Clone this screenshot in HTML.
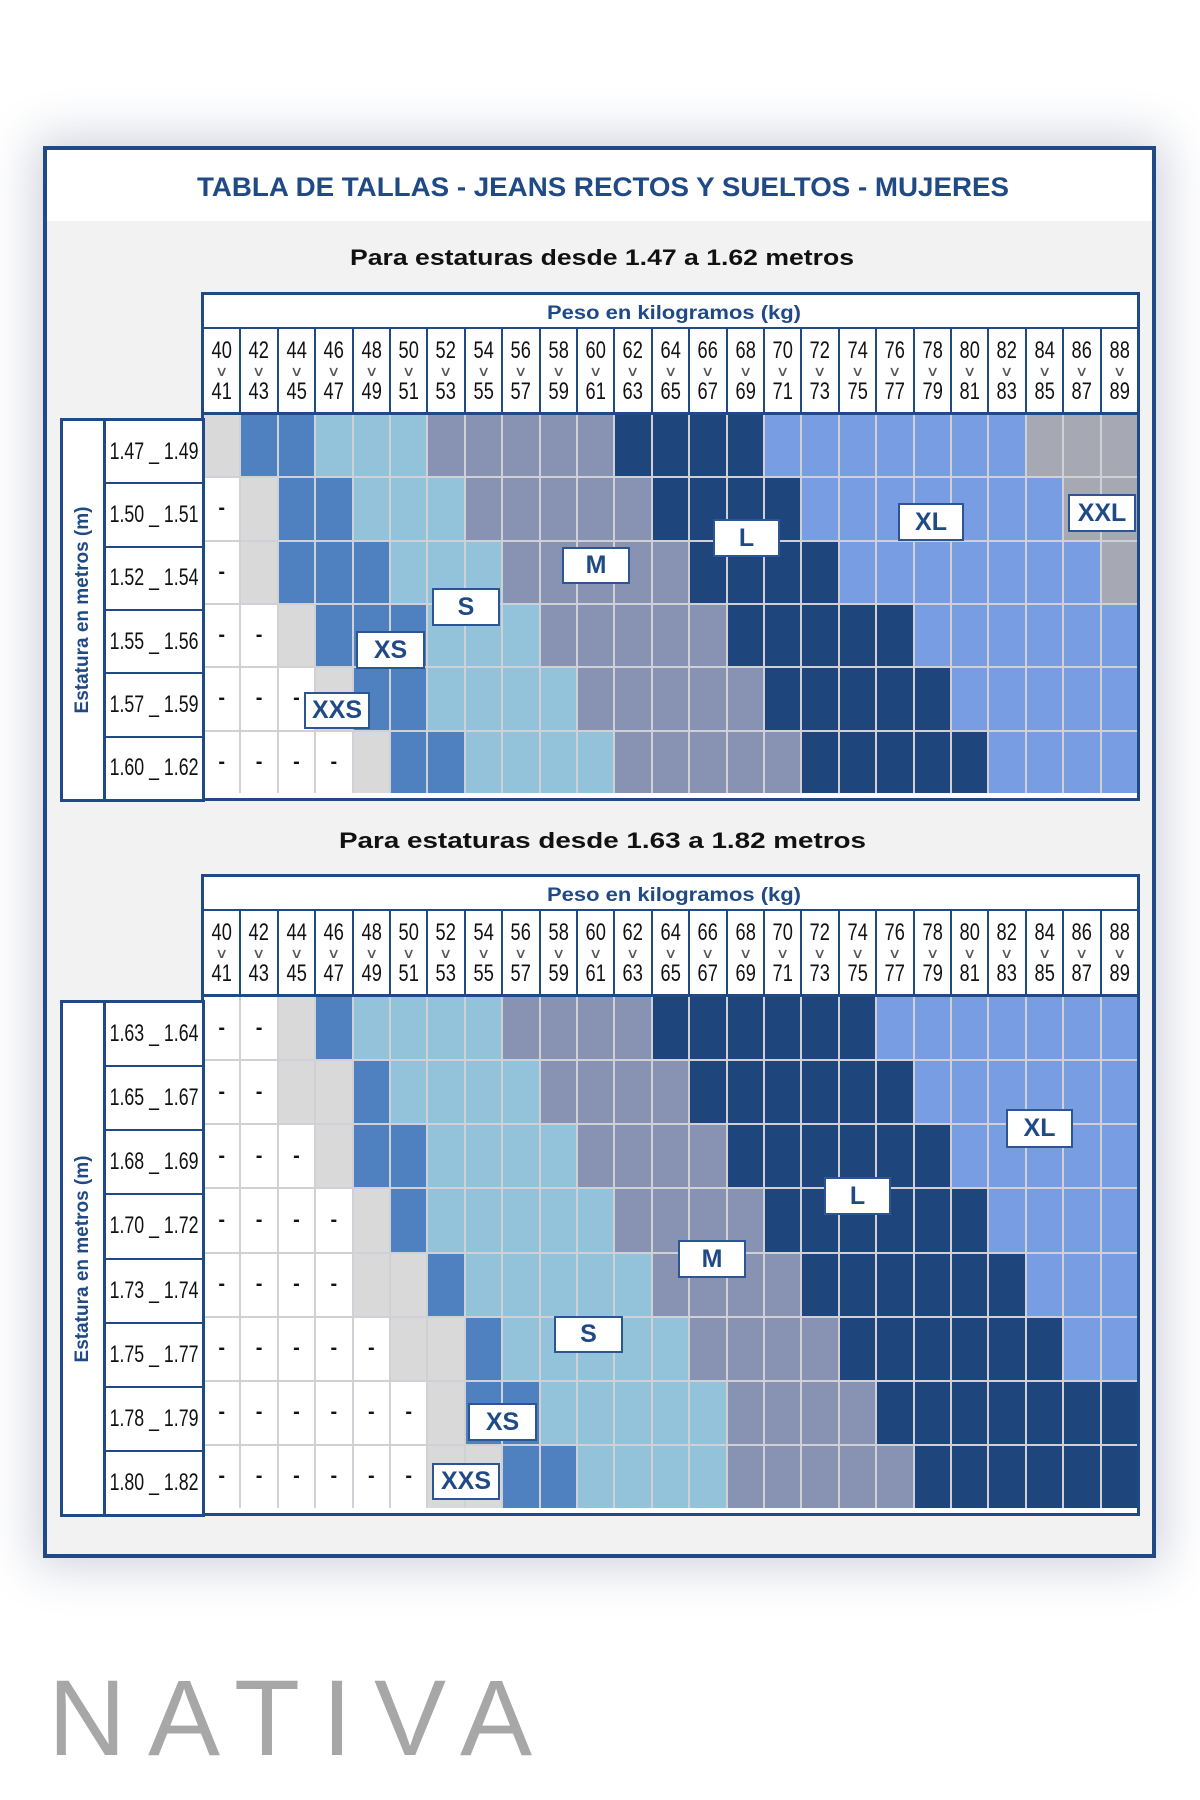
<!DOCTYPE html>
<html><head><meta charset="utf-8">
<style>
*{margin:0;padding:0;box-sizing:border-box}
body{width:1200px;height:1800px;background:#fff;position:relative;overflow:hidden;font-family:"Liberation Sans",sans-serif}
.abs{position:absolute}
.frame{left:43px;top:146px;width:1113px;height:1412px;border:4px solid #1f4a85;background:#f2f2f3;box-shadow:0 0 45px 8px rgba(30,50,90,0.22)}
.band{left:47px;top:150px;width:1105px;height:71px;background:#fff}
.tbl{border:3px solid #1f4a85;background:#fff;width:939px;left:201px}
.peso{height:34px;background:#fff;border-bottom:2px solid #1f4a85}
.hdr{display:grid;grid-template-columns:repeat(25,1fr);column-gap:2px;background:#1f4a85;height:86px;border-bottom:3px solid #1f4a85}
.hdr div{background:#fff;text-align:center;font-size:24px;color:#111;line-height:1;white-space:nowrap;overflow:hidden}
.hdr div b,.hdr div u{display:block;font-weight:normal;text-decoration:none;transform:scaleX(0.76)}
.hdr div b{margin-top:10px}
.hdr div s{display:block;text-decoration:none;font-size:14px;color:#555;margin:1px 0 2px;transform:scaleX(1.3)}
.body{display:grid;grid-template-columns:repeat(25,1fr);gap:2px;background:#cfd1d6}
.body i{display:block;font-style:normal;text-align:center;font-size:20px;font-weight:bold;color:#111}
.body i.w{display:flex;align-items:center;justify-content:center;background:#fff}
.g{background:#d9d9d9}.b{background:#4f81c0}.c{background:#93c3da}.m{background:#8893b4}.d{background:#1e467d}.p{background:#789de3}.q{background:#a6a9b3}
.lbox{left:60px;width:145px;border:3px solid #1f4a85;background:#fff;display:flex}
.lcol{flex:none;width:43px;border-right:3px solid #1f4a85;position:relative}
.hts{flex:1;display:flex;flex-direction:column;background:#1f4a85;gap:2px;min-width:0}
.hts div{flex:1;background:#fff;display:flex;align-items:center;justify-content:center;font-size:24px;color:#111;white-space:nowrap}
.hts div span{display:inline-block;transform:scaleX(0.74)}
.rot{position:absolute;left:50%;top:50%;transform:translate(-50%,-50%) rotate(-90deg);white-space:nowrap;color:#1f4a85;font-weight:bold;font-size:19px}
.lab{background:#fff;border:2px solid #2b5693;color:#1f4a85;font-weight:bold;font-size:25px;display:flex;align-items:center;justify-content:center}
</style></head><body>
<div class="abs frame"></div>
<div class="abs band"></div>
<svg class="abs" style="left:0;top:0" width="1200" height="1800">
<text x="197" y="196" textLength="812" lengthAdjust="spacingAndGlyphs" font-family="Liberation Sans" font-weight="bold" font-size="27" fill="#1f4a85">TABLA DE TALLAS - JEANS RECTOS Y SUELTOS - MUJERES</text>
<text x="350" y="265" textLength="504" lengthAdjust="spacingAndGlyphs" font-family="Liberation Sans" font-weight="bold" font-size="22" fill="#111">Para estaturas desde 1.47 a 1.62 metros</text>
<text x="339" y="848" textLength="527" lengthAdjust="spacingAndGlyphs" font-family="Liberation Sans" font-weight="bold" font-size="22" fill="#111">Para estaturas desde 1.63 a 1.82 metros</text>
<text x="48" y="1755" textLength="484" lengthAdjust="spacing" font-family="Liberation Sans" font-size="108" fill="#a7a7a7">NATIVA</text>
</svg>

<!-- TABLE 1 -->
<div class="abs tbl" style="top:292px;height:509px">
<div class="peso"><svg width="933" height="32"><text x="343" y="24" textLength="254" lengthAdjust="spacingAndGlyphs" font-family="Liberation Sans" font-weight="bold" font-size="19" fill="#1f4a85">Peso en kilogramos (kg)</text></svg></div>
<div class="hdr">
<div><b>40</b><s>∨</s><u>41</u></div><div><b>42</b><s>∨</s><u>43</u></div><div><b>44</b><s>∨</s><u>45</u></div><div><b>46</b><s>∨</s><u>47</u></div><div><b>48</b><s>∨</s><u>49</u></div><div><b>50</b><s>∨</s><u>51</u></div><div><b>52</b><s>∨</s><u>53</u></div><div><b>54</b><s>∨</s><u>55</u></div><div><b>56</b><s>∨</s><u>57</u></div><div><b>58</b><s>∨</s><u>59</u></div><div><b>60</b><s>∨</s><u>61</u></div><div><b>62</b><s>∨</s><u>63</u></div><div><b>64</b><s>∨</s><u>65</u></div><div><b>66</b><s>∨</s><u>67</u></div><div><b>68</b><s>∨</s><u>69</u></div><div><b>70</b><s>∨</s><u>71</u></div><div><b>72</b><s>∨</s><u>73</u></div><div><b>74</b><s>∨</s><u>75</u></div><div><b>76</b><s>∨</s><u>77</u></div><div><b>78</b><s>∨</s><u>79</u></div><div><b>80</b><s>∨</s><u>81</u></div><div><b>82</b><s>∨</s><u>83</u></div><div><b>84</b><s>∨</s><u>85</u></div><div><b>86</b><s>∨</s><u>87</u></div><div><b>88</b><s>∨</s><u>89</u></div>
</div>
<div class="body" style="height:378px;grid-template-rows:repeat(6,1fr)">
<i class="g"></i><i class="b"></i><i class="b"></i><i class="c"></i><i class="c"></i><i class="c"></i><i class="m"></i><i class="m"></i><i class="m"></i><i class="m"></i><i class="m"></i><i class="d"></i><i class="d"></i><i class="d"></i><i class="d"></i><i class="p"></i><i class="p"></i><i class="p"></i><i class="p"></i><i class="p"></i><i class="p"></i><i class="p"></i><i class="q"></i><i class="q"></i><i class="q"></i>
<i class="w">-</i><i class="g"></i><i class="b"></i><i class="b"></i><i class="c"></i><i class="c"></i><i class="c"></i><i class="m"></i><i class="m"></i><i class="m"></i><i class="m"></i><i class="m"></i><i class="d"></i><i class="d"></i><i class="d"></i><i class="d"></i><i class="p"></i><i class="p"></i><i class="p"></i><i class="p"></i><i class="p"></i><i class="p"></i><i class="p"></i><i class="q"></i><i class="q"></i>
<i class="w">-</i><i class="g"></i><i class="b"></i><i class="b"></i><i class="b"></i><i class="c"></i><i class="c"></i><i class="c"></i><i class="m"></i><i class="m"></i><i class="m"></i><i class="m"></i><i class="m"></i><i class="d"></i><i class="d"></i><i class="d"></i><i class="d"></i><i class="p"></i><i class="p"></i><i class="p"></i><i class="p"></i><i class="p"></i><i class="p"></i><i class="p"></i><i class="q"></i>
<i class="w">-</i><i class="w">-</i><i class="g"></i><i class="b"></i><i class="b"></i><i class="b"></i><i class="c"></i><i class="c"></i><i class="c"></i><i class="m"></i><i class="m"></i><i class="m"></i><i class="m"></i><i class="m"></i><i class="d"></i><i class="d"></i><i class="d"></i><i class="d"></i><i class="d"></i><i class="p"></i><i class="p"></i><i class="p"></i><i class="p"></i><i class="p"></i><i class="p"></i>
<i class="w">-</i><i class="w">-</i><i class="w">-</i><i class="g"></i><i class="b"></i><i class="b"></i><i class="c"></i><i class="c"></i><i class="c"></i><i class="c"></i><i class="m"></i><i class="m"></i><i class="m"></i><i class="m"></i><i class="m"></i><i class="d"></i><i class="d"></i><i class="d"></i><i class="d"></i><i class="d"></i><i class="p"></i><i class="p"></i><i class="p"></i><i class="p"></i><i class="p"></i>
<i class="w">-</i><i class="w">-</i><i class="w">-</i><i class="w">-</i><i class="g"></i><i class="b"></i><i class="b"></i><i class="c"></i><i class="c"></i><i class="c"></i><i class="c"></i><i class="m"></i><i class="m"></i><i class="m"></i><i class="m"></i><i class="m"></i><i class="d"></i><i class="d"></i><i class="d"></i><i class="d"></i><i class="d"></i><i class="p"></i><i class="p"></i><i class="p"></i><i class="p"></i>
</div>
</div>
<div class="abs lbox" style="top:418px;height:384px">
<div class="lcol"><span class="rot">Estatura en metros (m)</span></div>
<div class="hts"><div><span>1.47 _ 1.49</span></div><div><span>1.50 _ 1.51</span></div><div><span>1.52 _ 1.54</span></div><div><span>1.55 _ 1.56</span></div><div><span>1.57 _ 1.59</span></div><div><span>1.60 _ 1.62</span></div></div>
</div>
<div class="abs lab" style="left:304px;top:692px;width:66px;height:37px">XXS</div>
<div class="abs lab" style="left:356px;top:631px;width:69px;height:38px">XS</div>
<div class="abs lab" style="left:432px;top:588px;width:68px;height:38px">S</div>
<div class="abs lab" style="left:562px;top:547px;width:68px;height:37px">M</div>
<div class="abs lab" style="left:713px;top:519px;width:67px;height:38px">L</div>
<div class="abs lab" style="left:898px;top:503px;width:66px;height:38px">XL</div>
<div class="abs lab" style="left:1068px;top:494px;width:68px;height:38px">XXL</div>

<!-- TABLE 2 -->
<div class="abs tbl" style="top:874px;height:642px">
<div class="peso"><svg width="933" height="32"><text x="343" y="24" textLength="254" lengthAdjust="spacingAndGlyphs" font-family="Liberation Sans" font-weight="bold" font-size="19" fill="#1f4a85">Peso en kilogramos (kg)</text></svg></div>
<div class="hdr">
<div><b>40</b><s>∨</s><u>41</u></div><div><b>42</b><s>∨</s><u>43</u></div><div><b>44</b><s>∨</s><u>45</u></div><div><b>46</b><s>∨</s><u>47</u></div><div><b>48</b><s>∨</s><u>49</u></div><div><b>50</b><s>∨</s><u>51</u></div><div><b>52</b><s>∨</s><u>53</u></div><div><b>54</b><s>∨</s><u>55</u></div><div><b>56</b><s>∨</s><u>57</u></div><div><b>58</b><s>∨</s><u>59</u></div><div><b>60</b><s>∨</s><u>61</u></div><div><b>62</b><s>∨</s><u>63</u></div><div><b>64</b><s>∨</s><u>65</u></div><div><b>66</b><s>∨</s><u>67</u></div><div><b>68</b><s>∨</s><u>69</u></div><div><b>70</b><s>∨</s><u>71</u></div><div><b>72</b><s>∨</s><u>73</u></div><div><b>74</b><s>∨</s><u>75</u></div><div><b>76</b><s>∨</s><u>77</u></div><div><b>78</b><s>∨</s><u>79</u></div><div><b>80</b><s>∨</s><u>81</u></div><div><b>82</b><s>∨</s><u>83</u></div><div><b>84</b><s>∨</s><u>85</u></div><div><b>86</b><s>∨</s><u>87</u></div><div><b>88</b><s>∨</s><u>89</u></div>
</div>
<div class="body" style="height:511px;grid-template-rows:repeat(8,1fr)">
<i class="w">-</i><i class="w">-</i><i class="g"></i><i class="b"></i><i class="c"></i><i class="c"></i><i class="c"></i><i class="c"></i><i class="m"></i><i class="m"></i><i class="m"></i><i class="m"></i><i class="d"></i><i class="d"></i><i class="d"></i><i class="d"></i><i class="d"></i><i class="d"></i><i class="p"></i><i class="p"></i><i class="p"></i><i class="p"></i><i class="p"></i><i class="p"></i><i class="p"></i>
<i class="w">-</i><i class="w">-</i><i class="g"></i><i class="g"></i><i class="b"></i><i class="c"></i><i class="c"></i><i class="c"></i><i class="c"></i><i class="m"></i><i class="m"></i><i class="m"></i><i class="m"></i><i class="d"></i><i class="d"></i><i class="d"></i><i class="d"></i><i class="d"></i><i class="d"></i><i class="p"></i><i class="p"></i><i class="p"></i><i class="p"></i><i class="p"></i><i class="p"></i>
<i class="w">-</i><i class="w">-</i><i class="w">-</i><i class="g"></i><i class="b"></i><i class="b"></i><i class="c"></i><i class="c"></i><i class="c"></i><i class="c"></i><i class="m"></i><i class="m"></i><i class="m"></i><i class="m"></i><i class="d"></i><i class="d"></i><i class="d"></i><i class="d"></i><i class="d"></i><i class="d"></i><i class="p"></i><i class="p"></i><i class="p"></i><i class="p"></i><i class="p"></i>
<i class="w">-</i><i class="w">-</i><i class="w">-</i><i class="w">-</i><i class="g"></i><i class="b"></i><i class="c"></i><i class="c"></i><i class="c"></i><i class="c"></i><i class="c"></i><i class="m"></i><i class="m"></i><i class="m"></i><i class="m"></i><i class="d"></i><i class="d"></i><i class="d"></i><i class="d"></i><i class="d"></i><i class="d"></i><i class="p"></i><i class="p"></i><i class="p"></i><i class="p"></i>
<i class="w">-</i><i class="w">-</i><i class="w">-</i><i class="w">-</i><i class="g"></i><i class="g"></i><i class="b"></i><i class="c"></i><i class="c"></i><i class="c"></i><i class="c"></i><i class="c"></i><i class="m"></i><i class="m"></i><i class="m"></i><i class="m"></i><i class="d"></i><i class="d"></i><i class="d"></i><i class="d"></i><i class="d"></i><i class="d"></i><i class="p"></i><i class="p"></i><i class="p"></i>
<i class="w">-</i><i class="w">-</i><i class="w">-</i><i class="w">-</i><i class="w">-</i><i class="g"></i><i class="g"></i><i class="b"></i><i class="c"></i><i class="c"></i><i class="c"></i><i class="c"></i><i class="c"></i><i class="m"></i><i class="m"></i><i class="m"></i><i class="m"></i><i class="d"></i><i class="d"></i><i class="d"></i><i class="d"></i><i class="d"></i><i class="d"></i><i class="p"></i><i class="p"></i>
<i class="w">-</i><i class="w">-</i><i class="w">-</i><i class="w">-</i><i class="w">-</i><i class="w">-</i><i class="g"></i><i class="b"></i><i class="b"></i><i class="c"></i><i class="c"></i><i class="c"></i><i class="c"></i><i class="c"></i><i class="m"></i><i class="m"></i><i class="m"></i><i class="m"></i><i class="d"></i><i class="d"></i><i class="d"></i><i class="d"></i><i class="d"></i><i class="d"></i><i class="d"></i>
<i class="w">-</i><i class="w">-</i><i class="w">-</i><i class="w">-</i><i class="w">-</i><i class="w">-</i><i class="g"></i><i class="g"></i><i class="b"></i><i class="b"></i><i class="c"></i><i class="c"></i><i class="c"></i><i class="c"></i><i class="m"></i><i class="m"></i><i class="m"></i><i class="m"></i><i class="m"></i><i class="d"></i><i class="d"></i><i class="d"></i><i class="d"></i><i class="d"></i><i class="d"></i>
</div>
</div>
<div class="abs lbox" style="top:1000px;height:517px">
<div class="lcol"><span class="rot">Estatura en metros (m)</span></div>
<div class="hts"><div><span>1.63 _ 1.64</span></div><div><span>1.65 _ 1.67</span></div><div><span>1.68 _ 1.69</span></div><div><span>1.70 _ 1.72</span></div><div><span>1.73 _ 1.74</span></div><div><span>1.75 _ 1.77</span></div><div><span>1.78 _ 1.79</span></div><div><span>1.80 _ 1.82</span></div></div>
</div>
<div class="abs lab" style="left:432px;top:1463px;width:68px;height:37px">XXS</div>
<div class="abs lab" style="left:468px;top:1403px;width:69px;height:38px">XS</div>
<div class="abs lab" style="left:554px;top:1316px;width:69px;height:37px">S</div>
<div class="abs lab" style="left:678px;top:1240px;width:68px;height:38px">M</div>
<div class="abs lab" style="left:824px;top:1177px;width:67px;height:38px">L</div>
<div class="abs lab" style="left:1006px;top:1109px;width:67px;height:39px">XL</div>
</body></html>
